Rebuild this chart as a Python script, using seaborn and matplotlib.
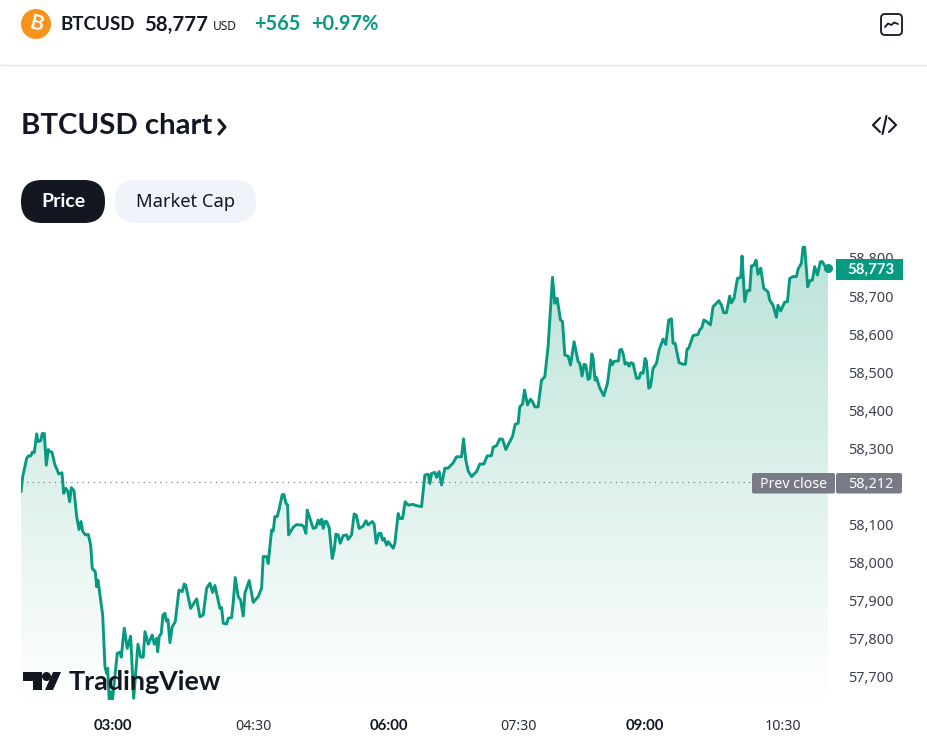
# BTCUSD 1D chart, TradingView widget look
import numpy as np
import pandas as pd
import matplotlib
matplotlib.use("Agg")
import matplotlib.pyplot as plt
from matplotlib.colors import LinearSegmentedColormap
from matplotlib.patches import Circle, FancyBboxPatch, Polygon, Rectangle
import seaborn as sns

# bar index along the (non linear) time axis
bars = [0, 1.7, 5.7, 7.3, 9.7, 11.3, 13.3, 15.7, 17, 19.7, 21.3, 23.3, 25.3, 27.3, 29, 31, 34, 36.3, 37.7, 41,
        42.7, 44.7, 46.7, 48.7, 50.3, 53, 55.7, 58, 60, 61.7, 64.3, 67.3, 69.7, 71.3, 74.3, 75.7, 77, 79, 81.7, 84,
        85.7, 86.7, 88.3, 90, 91.3, 96.3, 99, 100.3, 103.3, 106.3, 109.7, 112.7, 117, 119.7, 122.3, 124, 127.3, 131.3, 133.3, 135.7,
        136.7, 138.3, 140.3, 142, 144, 145.3, 147, 149, 151.3, 154.3, 158, 161.3, 163.3, 164.7, 169.7, 175.7, 179, 182.3, 185.7, 189,
        191.7, 194, 199, 200.7, 202.3, 205.7, 207.3, 210.7, 212.3, 214.3, 217.3, 219.7, 222.3, 224, 228.3, 232.3, 237.3, 240.7, 242.3, 245.7,
        247.3, 250.7, 252.3, 254, 256.3, 258, 261.3, 263, 265, 266.7, 267.7, 272.3, 275.7, 279,
        280.7, 283, 285, 286.3, 289, 292.3, 295, 297.3, 299, 300.7, 302.3, 304, 305.7, 308.3, 311.3, 313.3, 315, 317.3, 319.3, 322.3,
        325.7, 327.3, 330.7, 333.3, 335.3, 338.3, 342.3, 345, 347.3, 351.3, 353.3, 355.3, 358, 360, 361.7, 363.3, 365.7, 367.3, 372.3, 374,
        377.3, 379, 381.7, 384.3, 387.3, 392.3, 395, 400.7, 404, 407.3, 409, 410.7, 414, 415.7, 418.3, 420.7, 424, 427.3, 432.3, 435.7,
        440.7, 442.7, 445, 447.3, 450.7, 455.7, 459, 463, 466.3, 470.7, 472.3, 475.7, 479, 481.7, 485, 489, 491.7, 494.3, 497.3, 499,
        501.7, 503.7, 506.7, 509.7, 511.7, 514, 517.3,
        520.7, 524, 527.3, 531.7, 534, 536.3, 539.7, 541.7, 544, 547.3, 549.7, 553.3, 557.3, 559, 561.3, 563.3, 565, 567.3, 569, 571,
        572.3, 574.3, 575.7, 579, 583, 586.7, 589.7, 591.3, 593, 597.7, 599, 600.7, 602.3, 604.3, 606.3, 608.3, 610, 612.3, 615.7, 618.3,
        620, 622.3, 624.3, 625.7, 628, 629.7, 632.3, 635.7, 638.3, 642.3, 645, 648, 650.7, 652.3, 654.3, 658.3, 662.3, 664.7, 666.3, 668,
        672.3, 677.3, 679, 681.3, 683, 685.7, 689.7, 692.3, 695.7, 698, 700.7, 703, 705.7, 709, 710.7, 713.3, 716.7, 720, 721.3, 724,
        726.3, 729, 730.7, 733.3, 735.3, 737.3, 740, 743, 747.3, 749, 752.3, 755.7, 757.3, 760, 764, 766.7, 769, 772.3, 775.7, 777.3,
        780.7, 782.3, 784, 787, 789, 791.7, 794, 796.7, 799.7, 801.7, 804, 807.3]

prices = [58186, 58226, 58274, 58280, 58280, 58290, 58289, 58338, 58318, 58320, 58339, 58339, 58256, 58297, 58291, 58290, 58256, 58243, 58233, 58236,
          58182, 58195, 58188, 58160, 58197, 58189, 58121, 58087, 58108, 58083, 58073, 58074, 58046, 57985, 57976, 57937, 57954, 57915, 57863, 57727,
          57709, 57723, 57635, 57661, 57635, 57762, 57765, 57752, 57828, 57775, 57807, 57644, 57786, 57752, 57752, 57819, 57786, 57810, 57786, 57801,
          57766, 57807, 57814, 57863, 57867, 57847, 57851, 57790, 57832, 57845, 57928, 57924, 57944, 57941, 57880, 57905, 57858, 57863, 57933, 57946,
          57922, 57940, 57880, 57882, 57841, 57839, 57854, 57856, 57895, 57961, 57911, 57902, 57860, 57920, 57953, 57896, 57911, 57933, 58016, 58016,
          57998, 58086, 58083, 58121, 58121, 58138, 58178, 58179, 58156, 58151, 58073, 58093, 58100, 58099,
          58099, 58094, 58077, 58138, 58116, 58090, 58092, 58112, 58101, 58114, 58090, 58108, 58108, 58092, 58011, 58033, 58075, 58073, 58051, 58071,
          58073, 58061, 58073, 58128, 58125, 58090, 58096, 58110, 58099, 58108, 58101, 58051, 58077, 58077, 58059, 58064, 58046, 58055, 58038, 58051,
          58129, 58116, 58116, 58160, 58151, 58153, 58150, 58147, 58230, 58232, 58208, 58234, 58237, 58224, 58239, 58204, 58248, 58248, 58262, 58278,
          58278, 58325, 58269, 58241, 58226, 58239, 58259, 58259, 58280, 58281, 58303, 58307, 58325, 58324, 58297, 58318, 58331, 58363, 58366, 58409,
          58416, 58453, 58414, 58429, 58423, 58409, 58409,
          58479, 58488, 58567, 58749, 58681, 58694, 58637, 58633, 58545, 58542, 58519, 58580, 58528, 58523, 58490, 58521, 58519, 58481, 58484, 58548,
          58536, 58479, 58486, 58458, 58438, 58471, 58532, 58519, 58528, 58530, 58558, 58560, 58549, 58521, 58525, 58516, 58525, 58523, 58484, 58484,
          58499, 58497, 58536, 58528, 58458, 58462, 58510, 58523, 58558, 58587, 58573, 58637, 58640, 58576, 58576, 58525, 58521, 58521, 58561, 58563,
          58596, 58599, 58611, 58618, 58637, 58633, 58624, 58672, 58681, 58688, 58676, 58656, 58656, 58700, 58682, 58694, 58746, 58749, 58805, 58685,
          58714, 58714, 58779, 58781, 58794, 58757, 58773, 58720, 58711, 58689, 58676, 58644, 58676, 58661, 58684, 58685, 58746, 58751, 58751, 58770,
          58786, 58828, 58828, 58724, 58740, 58742, 58777, 58755, 58790, 58790, 58779, 58773]

x_tick_pos = [92, 233, 368, 498, 624, 762]
x_tick_labels = ["03:00", "04:30", "06:00", "07:30", "09:00", "10:30"]
x_tick_bold = [True, False, True, False, True, False]
# 58,200 sits behind the Prev close label, so it is not listed
y_ticks = [57700, 57800, 57900, 58000, 58100, 58300, 58400, 58500, 58600, 58700, 58800]
prev_close = 58212
last_price = 58773

W, H = 927, 738
GREEN = "#089981"
DARK = "#131722"
GREY = "#787B86"
BOLD_FONT = "Lato"

sns.set_theme(style="white")
plt.rcParams["font.family"] = ["Noto Sans", "DejaVu Sans"]

fig = plt.figure(figsize=(W / 100, H / 100), dpi=100)
# plot area in pixels: x 21-828, y 240-700
ax = fig.add_axes([21 / W, 1 - 700 / H, (828 - 21) / W, 460 / H])

df = pd.DataFrame({"bar": bars, "price": prices})
y_low, y_high = 57639.5, 58847

# gradient under the line
cmap = LinearSegmentedColormap.from_list("fade", ["#FFFFFF", "#BAE2D8"])
grad = ax.imshow(np.linspace(1, 0, 256).reshape(-1, 1), cmap=cmap, vmin=0, vmax=1, aspect="auto",
                 extent=[df["bar"].min(), df["bar"].max(), y_low, y_high], zorder=1)
poly = ax.fill_between(df["bar"], df["price"], y_low, color="none", lw=0)
grad.set_clip_path(poly.get_paths()[0], transform=ax.transData)

ax.axhline(prev_close, color="#6A6D78", lw=0.8, dashes=(1, 4), zorder=2)
sns.lineplot(data=df, x="bar", y="price", color=GREEN, lw=2.1, ax=ax, zorder=3, estimator=None, sort=False)
ax.plot(df["bar"].iloc[-1], last_price, "o", color=GREEN, ms=5.5, zorder=4, clip_on=False)

ax.set_xlim(0, 807.3)
ax.set_ylim(y_low, y_high)
ax.set_xlabel("")
ax.set_ylabel("")
sns.despine(ax=ax, left=True, bottom=True, right=True, top=True)
ax.patch.set_alpha(0)

ax.yaxis.tick_right()
ax.set_yticks(y_ticks)
ax.set_yticklabels([f"{v:,}" for v in y_ticks], fontsize=10.4, color="#3E4150")
ax.tick_params(axis="y", length=0, pad=14.5)
ax.set_xticks(x_tick_pos)
ax.set_xticklabels(x_tick_labels, fontsize=10.2, color="#2A2E39")
for lab, bold in zip(ax.get_xticklabels(), x_tick_bold):
    if bold:
        lab.set_family(BOLD_FONT)
        lab.set_fontweight("bold")
        lab.set_fontsize(10.8)
        lab.set_color(DARK)
ax.tick_params(axis="x", length=0, pad=14)

# everything around the plot drawn in pixel coordinates
ui = fig.add_axes([0, 0, 1, 1], zorder=5)
ui.set_xlim(0, W)
ui.set_ylim(H, 0)
ui.axis("off")
ui.patch.set_alpha(0)


def bold_text(x, y, s, size, color=DARK, **kw):
    ui.text(x, y, s, fontsize=size, family=BOLD_FONT, fontweight="bold", color=color, va="center", **kw)


# header
ui.add_patch(Circle((36, 24), 15, color="#F7931A", lw=0))
bold_text(36, 24, "B", 15, color="white", ha="center", rotation=-14)
bold_text(61, 24.5, "BTCUSD", 13.5)
bold_text(144, 24.5, "58,777", 14.6)
ui.text(213, 27, "USD", fontsize=8.6, color=DARK, va="center")
bold_text(254, 24.5, "+565", 14.4, color=GREEN)
bold_text(311, 24.5, "+0.97%", 14.4, color=GREEN)
ui.plot([0, W], [64.5, 64.5], color="#E0E3EB", lw=1)

# icon top right
ui.add_patch(FancyBboxPatch((881, 14), 21, 21, boxstyle="round,pad=0,rounding_size=4", fc="white", ec=DARK, lw=1.3))
ui.plot([885, 888, 891.5, 894, 898], [27, 23.5, 25, 22.5, 24], color=DARK, lw=1.3)

# title
bold_text(21, 125.5, "BTCUSD chart", 21.2)
ui.plot([219, 225, 219], [120, 127, 134], color=DARK, lw=2.2)
ui.plot([880, 873, 880], [118, 125, 132], color=DARK, lw=1.5)
ui.plot([889, 896, 889], [118, 125, 132], color=DARK, lw=1.5)
ui.plot([886.5, 882.5], [116, 134], color=DARK, lw=1.5)

# pills
ui.add_patch(FancyBboxPatch((21, 180), 84, 43, boxstyle="round,pad=0,rounding_size=21", fc=DARK, ec="none"))
bold_text(63, 201.5, "Price", 14, color="white", ha="center")
ui.add_patch(FancyBboxPatch((115, 180), 141, 43, boxstyle="round,pad=0,rounding_size=21", fc="#F0F3FA", ec="none"))
ui.text(185.5, 202, "Market Cap", fontsize=13.2, color=DARK, ha="center", va="center")

# price labels
ui.add_patch(Rectangle((836, 259), 67, 20.5, fc=GREEN, ec="none"))
bold_text(871, 269.5, f"{last_price:,}", 10.8, color="white", ha="center")
ui.add_patch(FancyBboxPatch((752, 473), 83, 20.5, boxstyle="round,pad=0,rounding_size=2", fc=GREY, ec="none"))
ui.add_patch(FancyBboxPatch((836, 473), 66, 20.5, boxstyle="round,pad=0,rounding_size=2", fc=GREY, ec="none"))
ui.text(793.5, 484, "Prev close", fontsize=10.2, color="white", ha="center", va="center")
ui.text(871, 484, f"{prev_close:,}", fontsize=10.4, color="white", ha="center", va="center")

# logo
ui.add_patch(Polygon([(23, 672), (42, 672), (42, 690), (33, 690), (33, 681), (23, 681)], fc=DARK, ec="none"))
ui.add_patch(Circle((46.5, 676.5), 4.5, fc=DARK, ec="none"))
ui.add_patch(Polygon([(45, 690), (53, 690), (61, 672), (53, 672)], fc=DARK, ec="none"))
bold_text(69, 682, "TradingView", 19.4)

fig.savefig("out.png", dpi=100)
